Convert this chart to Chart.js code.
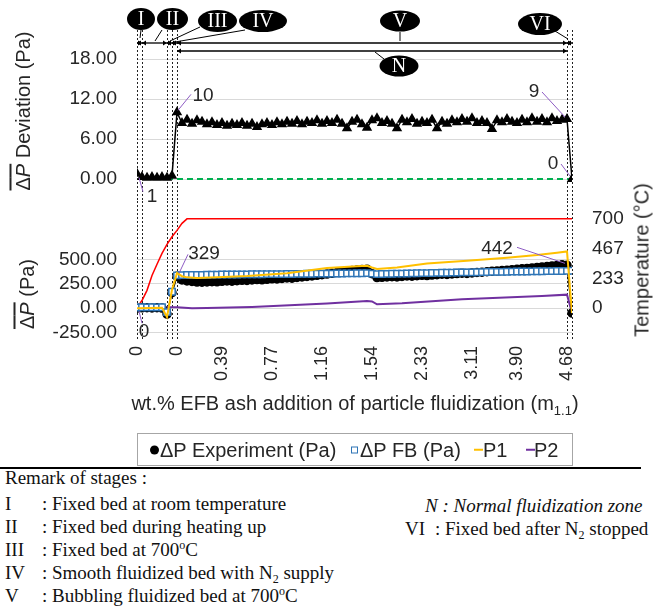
<!DOCTYPE html>
<html>
<head>
<meta charset="utf-8">
<title>EFB ash fluidization</title>
<script src="https://cdn.jsdelivr.net/npm/chart.js@4.4.1/dist/chart.umd.min.js"></script>
<style>
  body { margin: 0; background: #fff; }
  #wrap { position: relative; width: 657px; height: 610px; overflow: hidden;
          font-family: "Liberation Sans", Arial, sans-serif; color: #262626; }
  canvas { position: absolute; left: 0; }
  #cTop { top: 0; }
  #cBot { top: 195px; }
  .rot { position: absolute; white-space: nowrap; font-size: 20px;
         transform: translate(-50%, -50%) rotate(-90deg); }
  .ovl { text-decoration: overline; }
  #xtitle { position: absolute; left: 117px; width: 476px; top: 392px; text-align: center;
            font-size: 20px; white-space: nowrap; }
  #xtitle .sb { font-size: 13px; position: relative; top: 5px; line-height: 0; }
  #legend { position: absolute; left: 137px; top: 433px; width: 434px; height: 31px;
            border: 1px solid #a6a6a6; font-size: 20px; }
  #legend span { position: absolute; top: 50%; transform: translateY(-50%); white-space: nowrap; }
  #legend .dot { width: 9px; height: 9px; border-radius: 50%; background: #000; }
  #legend .sq { width: 5px; height: 5px; border: 1.5px solid #2e75b6; background: #fff; }
  #legend .ln { width: 9px; height: 2.5px; }
  #sep { position: absolute; left: 0; top: 467px; width: 641px; height: 2px; background: #000; }
  .rm { position: absolute; font-family: "Liberation Serif", "Times New Roman", serif;
        font-size: 19px; line-height: 22px; color: #111; white-space: nowrap; }
  .rm .rn { display: inline-block; width: 37px; }
  .rm .up { font-size: 12px; position: relative; top: -7px; line-height: 0; }
  .rm .dn { font-size: 12px; position: relative; top: 4px; line-height: 0; }
</style>
</head>
<body>
<div id="wrap">
  <canvas id="cTop" width="657" height="215"></canvas>
  <canvas id="cBot" width="657" height="210"></canvas>

  <div class="rot" style="left:23px; top:111px;"><span class="ovl">Δ<i>P</i></span> Deviation (Pa)</div>
  <div class="rot" style="left:27px; top:294px;"><span class="ovl">Δ<i>P</i></span> (Pa)</div>
  <div class="rot" style="left:642px; top:260px;">Temperature (°C)</div>

  <div id="xtitle">wt.% EFB ash addition of particle fluidization (m<span class="sb">1.1</span>)</div>

  <div id="legend">
    <span class="dot" style="left:12px"></span><span style="left:22px">ΔP Experiment (Pa)</span>
    <span class="sq" style="left:213px"></span><span style="left:222px">ΔP FB (Pa)</span>
    <span class="ln" style="left:336px; background:#ffc000"></span><span style="left:345px">P1</span>
    <span class="ln" style="left:388px; background:#7030a0"></span><span style="left:396px">P2</span>
  </div>

  <div id="sep"></div>

  <div class="rm" style="left:5px; top:467px;">Remark of stages :</div>
  <div class="rm" style="left:5px; top:493px;"><span class="rn">I</span>: Fixed bed at room temperature</div>
  <div class="rm" style="left:5px; top:516px;"><span class="rn">II</span>: Fixed bed during heating up</div>
  <div class="rm" style="left:5px; top:539px;"><span class="rn">III</span>: Fixed bed at 700<span class="up">o</span>C</div>
  <div class="rm" style="left:5px; top:562px;"><span class="rn">IV</span>: Smooth fluidized bed with N<span class="dn">2</span> supply</div>
  <div class="rm" style="left:5px; top:585px;"><span class="rn">V</span>: Bubbling fluidized bed at 700<span class="up">o</span>C</div>
  <div class="rm" style="left:425px; top:495px;"><i>N : Normal fluidization zone</i></div>
  <div class="rm" style="left:405px; top:518px;"><span class="rn" style="width:30px">VI</span>: Fixed bed after N<span class="dn">2</span> stopped</div>
</div>

<script>
// x is the sample index along the run (one marker per sample)
const xTickIndex = [0, 8, 17, 27, 37, 47, 57, 67, 76, 86];
const xTickLabels = ["0", "0", "0.39", "0.77", "1.16", "1.54", "2.33", "3.11", "3.90", "4.68"];

// top panel: dP deviation (Pa)
const devValues = [
  0.8, 0.3, 0.2, 0.3, 0.2, 0.3, 0.2, 0.5, 10.0,
  8.4, 8.9, 8.3, 8.8, 8.6, 8.2, 8.5, 8.1, 8.4, 8.0,
  8.3, 8.1, 8.4, 8.0, 8.3, 7.8, 8.2, 8.4, 8.1, 8.5,
  8.2, 8.6, 8.3, 8.7, 8.2, 8.6, 8.4, 8.8, 8.3, 8.7,
  8.4, 8.9, 8.3, 7.6, 8.6, 8.9, 8.2, 7.7, 8.8, 9.1,
  8.4, 8.7, 8.3, 7.6, 8.9, 8.5, 9.0, 8.3, 8.6, 8.4,
  8.9, 7.6, 8.6, 8.3, 8.8, 8.5, 9.0, 8.6, 9.1, 8.4,
  8.7, 8.4, 7.5, 8.8, 8.5, 9.0, 8.6, 8.4, 8.9, 8.5,
  9.1, 8.6, 9.0, 8.5, 9.1, 8.7, 8.9, 9.0, 0.0
];
const zeroLineX = [6, 87];
const zeroLineY = [0, 0];
const devTicks = [0, 6, 12, 18];

// bottom panel: dP (Pa)
const expValues = [
  0, 4, 6, 3, 5, 2, -60, 160, 329,
  292, 281, 276, 270, 268, 271, 274, 272, 277, 281,
  279, 284, 288, 286, 291, 295, 293, 298, 303, 301,
  307, 312, 310, 317, 322, 327, 333, 339, 346, 352,
  360, 367, 374, 381, 388, 394, 399, 402, 356, 316,
  318, 322, 325, 323, 328, 332, 330, 335, 339, 337,
  342, 346, 350, 348, 353, 357, 361, 359, 364, 368,
  372, 376, 380, 384, 388, 392, 397, 401, 406, 410,
  415, 420, 425, 430, 436, 441, 447, 442, -50
];
const fbValues = [
  8, 10, 9, 10, 9, 10, -40, 170, 338,
  341, 342, 343, 344, 344, 345, 346, 346, 347, 347,
  348, 348, 349, 349, 350, 350, 350, 351, 351, 352,
  352, 353, 353, 354, 354, 355, 355, 356, 356, 357,
  357, 358, 358, 359, 359, 360, 360, 361, 356, 352,
  353, 354, 355, 356, 357, 358, 359, 360, 361, 362,
  363, 364, 365, 366, 367, 368, 369, 369, 370, 371,
  372, 373, 374, 374, 375, 376, 377, 378, 378, 379,
  380, 381, 381, 382, 383, 384, 384, 385, 386
];
const p1X = [0, 5, 6, 7, 8, 9, 10, 12, 16, 22, 30, 38, 44, 46, 47, 48, 52, 58, 66, 74, 80, 84, 86, 87];
const p1Y = [0, 5, -90, 190, 362, 330, 318, 312, 318, 332, 360, 415, 432, 437, 420, 405, 420, 462, 490, 520, 548, 572, 585, -50];
const p2X = [0, 8, 11, 14, 23, 38, 46, 47, 48, 53, 65, 81, 86, 87];
const p2Y = [10, 10, 0, 2, 13, 48, 75, 70, 40, 50, 92, 126, 140, -50];
const tempX = [0, 1, 2, 3, 4, 5, 6, 7, 8, 9, 10, 87];
const tempY = [5, 60, 140, 257, 345, 430, 500, 560, 610, 665, 700, 700];
const pTicks = [-250, 0, 250, 500];
const tempTicks = [0, 700 / 3, 1400 / 3, 700];

// stage boundaries (sample index)
const stageEdges = [0, 1, 6, 7, 8, 86, 87];

const FONT = '"Liberation Sans", Arial, sans-serif';
const SERIF = '"Liberation Serif", "Times New Roman", serif';
const TXT = "#262626";
const GRID = "#d9d9d9";
const LEADER = "#8e5cc4";

Chart.defaults.font.family = FONT;
Chart.defaults.color = TXT;

const pts = (xs, ys) => xs.map((x, i) => ({ x: x, y: ys[i] }));
const seq = ys => ys.map((y, i) => ({ x: i, y: y }));

function seg(ctx, x1, y1, x2, y2) {
  ctx.beginPath(); ctx.moveTo(x1, y1); ctx.lineTo(x2, y2); ctx.stroke();
}

function head(ctx, x, y, dir) {
  ctx.beginPath();
  ctx.moveTo(x, y);
  ctx.lineTo(x - dir * 4, y - 2.5);
  ctx.lineTo(x - dir * 4, y + 2.5);
  ctx.closePath(); ctx.fill();
}

function dblArrow(ctx, x1, x2, y) {
  seg(ctx, x1, y, x2, y);
  head(ctx, x1, y, -1);
  head(ctx, x2, y, 1);
}

function bubble(ctx, txt, cx, cy, rx, ry) {
  ctx.fillStyle = "#000";
  ctx.beginPath(); ctx.ellipse(cx, cy, rx, ry, 0, 0, Math.PI * 2); ctx.fill();
  ctx.fillStyle = "#fff";
  ctx.font = "20px " + SERIF;
  ctx.textAlign = "center"; ctx.textBaseline = "middle";
  ctx.fillText(txt, cx, cy + 1);
}

function dashedEdges(chart, y1, y2) {
  const ctx = chart.ctx, xs = chart.scales.x;
  ctx.save();
  ctx.strokeStyle = "#222"; ctx.lineWidth = 1; ctx.setLineDash([2, 2]);
  stageEdges.forEach(v => {
    const px = Math.round(xs.getPixelForValue(v)) + 0.5;
    seg(ctx, px, y1, px, y2);
  });
  ctx.restore();
}

// value call-outs with a thin leader line
function callouts(chart, dsIndex, values, list) {
  const ctx = chart.ctx;
  const meta = chart.getDatasetMeta(dsIndex);
  ctx.save();
  ctx.font = "19px " + FONT;
  ctx.fillStyle = TXT; ctx.textAlign = "center"; ctx.textBaseline = "middle";
  ctx.strokeStyle = LEADER; ctx.lineWidth = 1;
  list.forEach(c => {
    const p = meta.data[c.i];
    seg(ctx, p.x + c.l[0], p.y + c.l[1], p.x + c.l[2], p.y + c.l[3]);
    ctx.fillText(String(Math.round(values[c.i])), p.x + c.tx, p.y + c.ty);
  });
  ctx.restore();
}

const topPlugin = {
  id: "stagesTop",
  beforeDatasetsDraw(chart) {
    dashedEdges(chart, 30, chart.chartArea.bottom + 1);
  },
  afterDraw(chart) {
    const ctx = chart.ctx, xs = chart.scales.x;
    const px = v => xs.getPixelForValue(v);
    ctx.save();
    ctx.strokeStyle = "#000"; ctx.fillStyle = "#000"; ctx.lineWidth = 1.3;
    // stage spans
    dblArrow(ctx, px(0), px(1), 43);
    dblArrow(ctx, px(1), px(6), 43);
    dblArrow(ctx, px(6), px(7), 43);
    dblArrow(ctx, px(7), px(8), 43);
    dblArrow(ctx, px(8), px(86), 43);
    dblArrow(ctx, px(86), px(87), 43);
    dblArrow(ctx, px(8), px(86), 51);
    // leaders
    ctx.lineWidth = 1;
    seg(ctx, 141, 30, px(0) + 3, 38);
    seg(ctx, 162, 30, 155, 41);
    seg(ctx, 200, 27, px(6) + 3, 41);
    seg(ctx, 245, 30, px(7) + 3, 42);
    seg(ctx, 400, 32, 400, 41);
    seg(ctx, 555, 31, px(86) + 1, 39);
    seg(ctx, 384, 59, 375, 52);
    // stage bubbles
    bubble(ctx, "I", 141, 19, 14, 11);
    bubble(ctx, "II", 172.5, 19, 15.5, 11);
    bubble(ctx, "III", 217.5, 21, 19.5, 11);
    bubble(ctx, "IV", 263, 21, 24, 11);
    bubble(ctx, "V", 400, 21, 20, 10.5);
    bubble(ctx, "VI", 540, 24, 22, 11);
    bubble(ctx, "N", 399, 66, 19.5, 10.5);
    ctx.restore();
    callouts(chart, 0, devValues, [
      { i: 0, tx: 15, ty: 23, l: [2, 4, 6, 18] },
      { i: 8, tx: 26, ty: -17, l: [1, -2, 14, -18] },
      { i: 86, tx: -33, ty: -27, l: [-25, -27, -2, -2] },
      { i: 87, tx: -19, ty: -15, l: [-11, -15, -2, -3] }
    ]);
  }
};

const botPlugin = {
  id: "stagesBot",
  beforeDatasetsDraw(chart) {
    dashedEdges(chart, chart.chartArea.top, chart.chartArea.bottom);
  },
  afterDraw(chart) {
    callouts(chart, 0, expValues, [
      { i: 0, tx: 7, ty: 24, l: [2, 3, 5, 15] },
      { i: 8, tx: 27, ty: -23, l: [2, -3, 11, -22] },
      { i: 86, tx: -70, ty: -17, l: [-50, -18, -2, -2] }
    ]);
  }
};

// fixed axis widths so both panels share the same plot area; drop the label overhang padding
const fixW = w => scale => { scale.width = w; scale.paddingTop = 0; scale.paddingBottom = 0; };

new Chart(document.getElementById("cTop"), {
  type: "line",
  data: {
    datasets: [
      {
        data: seq(devValues),
        borderColor: "#000", borderWidth: 1.5,
        pointStyle: "triangle", pointRadius: 4.5,
        pointBackgroundColor: "#000", pointBorderColor: "#000",
        order: 0
      },
      {
        data: pts(zeroLineX, zeroLineY),
        borderColor: "#00b050", borderWidth: 2, borderDash: [6, 4],
        pointRadius: 0, order: 1
      }
    ]
  },
  options: {
    responsive: false, animation: false,
    layout: { padding: { top: 19, right: 85, bottom: 16, left: 0 } },
    plugins: { legend: { display: false }, tooltip: { enabled: false } },
    scales: {
      x: { type: "linear", min: 0, max: 87, display: false },
      y: {
        min: -3, max: 24,
        afterBuildTicks: s => { s.ticks = devTicks.map(v => ({ value: v })); },
        afterFit: fixW(137),
        border: { display: false },
        grid: { color: GRID, drawTicks: false },
        ticks: { padding: 20, font: { size: 19 }, color: TXT, callback: v => v.toFixed(2) }
      }
    }
  },
  plugins: [topPlugin]
});

new Chart(document.getElementById("cBot"), {
  type: "line",
  data: {
    datasets: [
      {
        label: "ΔP Experiment (Pa)",
        data: seq(expValues), yAxisID: "yP",
        borderColor: "#000", borderWidth: 1.5,
        pointStyle: "circle", pointRadius: 4,
        pointBackgroundColor: "#000", pointBorderColor: "#000",
        order: 2
      },
      {
        label: "ΔP FB (Pa)",
        data: seq(fbValues), yAxisID: "yP", showLine: false,
        pointStyle: "rect", pointRadius: 4.5, pointBorderWidth: 1.5,
        pointBorderColor: "#2e75b6", pointBackgroundColor: "#fff",
        order: 1
      },
      {
        label: "P1",
        data: pts(p1X, p1Y), yAxisID: "yP",
        borderColor: "#ffc000", borderWidth: 2, pointRadius: 0,
        order: 0
      },
      {
        label: "P2",
        data: pts(p2X, p2Y), yAxisID: "yP",
        borderColor: "#7030a0", borderWidth: 2, pointRadius: 0,
        order: 3
      },
      {
        label: "Temperature",
        data: pts(tempX, tempY), yAxisID: "yT",
        borderColor: "#ff0000", borderWidth: 1.5, pointRadius: 0,
        order: 4
      }
    ]
  },
  options: {
    responsive: false, animation: false,
    layout: { padding: { top: 5, right: 0, bottom: 0, left: 0 } },
    plugins: { legend: { display: false }, tooltip: { enabled: false } },
    scales: {
      x: {
        type: "linear", min: 0, max: 87,
        afterBuildTicks: s => { s.ticks = xTickIndex.map(v => ({ value: v })); },
        afterFit: s => { s.height = 65; s.paddingLeft = 0; s.paddingRight = 0; },
        border: { display: false },
        grid: { display: false, drawTicks: false },
        ticks: {
          autoSkip: false, minRotation: 90, maxRotation: 90, padding: 6,
          font: { size: 18 }, color: TXT,
          callback: v => xTickLabels[xTickIndex.indexOf(v)]
        }
      },
      yP: {
        position: "left", min: -327.5, max: 1105,
        afterBuildTicks: s => { s.ticks = pTicks.map(v => ({ value: v })); },
        afterFit: fixW(137),
        border: { display: false },
        grid: { color: GRID, drawTicks: false },
        ticks: { padding: 20, font: { size: 19 }, color: TXT, callback: v => v.toFixed(2) }
      },
      yT: {
        position: "right", min: -249, max: 840,
        afterBuildTicks: s => { s.ticks = tempTicks.map(v => ({ value: v })); },
        afterFit: fixW(85),
        border: { display: false },
        grid: { drawOnChartArea: false, drawTicks: false },
        ticks: { padding: 20, font: { size: 19 }, color: TXT, callback: v => String(Math.round(v)) }
      }
    }
  },
  plugins: [botPlugin]
});
</script>
</body>
</html>
